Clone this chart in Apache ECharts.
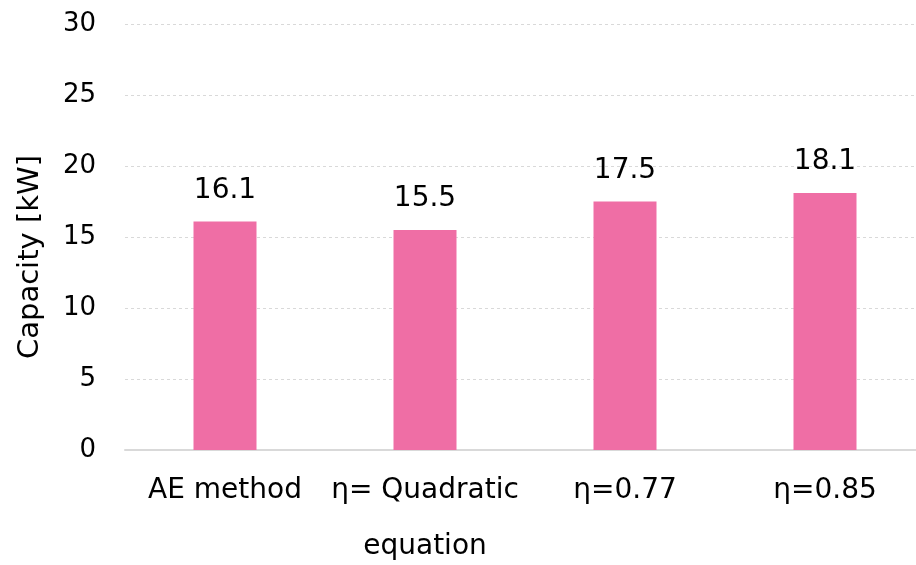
<!DOCTYPE html>
<html><head><meta charset="utf-8">
<script src="https://cdn.jsdelivr.net/npm/echarts@6/dist/echarts.min.js"></script>
<style>html,body{margin:0;padding:0;background:#fff}#c{width:916px;height:565px}</style>
</head><body><div id="c"></div>
<script>
const categories = ['AE method', 'η= Quadratic\nequation', 'η=0.77', 'η=0.85'];
const capacity = [16.1, 15.5, 17.5, 18.1];
const yTicks = [0, 5, 10, 15, 20, 25, 30];
const yAxisName = 'Capacity [kW]';

const font = 'DejaVu Sans';
const chart = echarts.init(document.getElementById('c'));
chart.setOption({
  animation: false,
  grid: { left: 125, top: 24, width: 800, height: 426, containLabel: false, outerBoundsMode: 'none' },
  xAxis: {
    type: 'category', data: categories,
    axisLine: { lineStyle: { color: '#d9d9d9', width: 2 } },
    axisTick: { show: false },
    axisLabel: { color: '#000', fontFamily: font, fontSize: 28, lineHeight: 56, margin: 13, interval: 0 }
  },
  yAxis: {
    type: 'value', min: yTicks[0], max: yTicks[yTicks.length - 1], interval: 5,
    name: yAxisName, nameLocation: 'middle', nameGap: 80,
    nameTextStyle: { color: '#000', fontFamily: font, fontSize: 29, padding: [0, 40, 0, 0] },
    axisLine: { show: false }, axisTick: { show: false },
    axisLabel: { color: '#000', fontFamily: font, fontSize: 26, margin: 29, padding: [5, 0, 0, 0] },
    splitLine: { lineStyle: { color: '#d9d9d9', type: [3, 3], width: 1 } }
  },
  series: [{
    type: 'bar', data: capacity, barWidth: 63,
    itemStyle: { color: '#EF6EA5' },
    label: { show: true, position: 'top', distance: 17, color: '#000', fontFamily: font, fontSize: 28,
      formatter: p => p.value.toFixed(1) }
  }]
});
</script></body></html>
